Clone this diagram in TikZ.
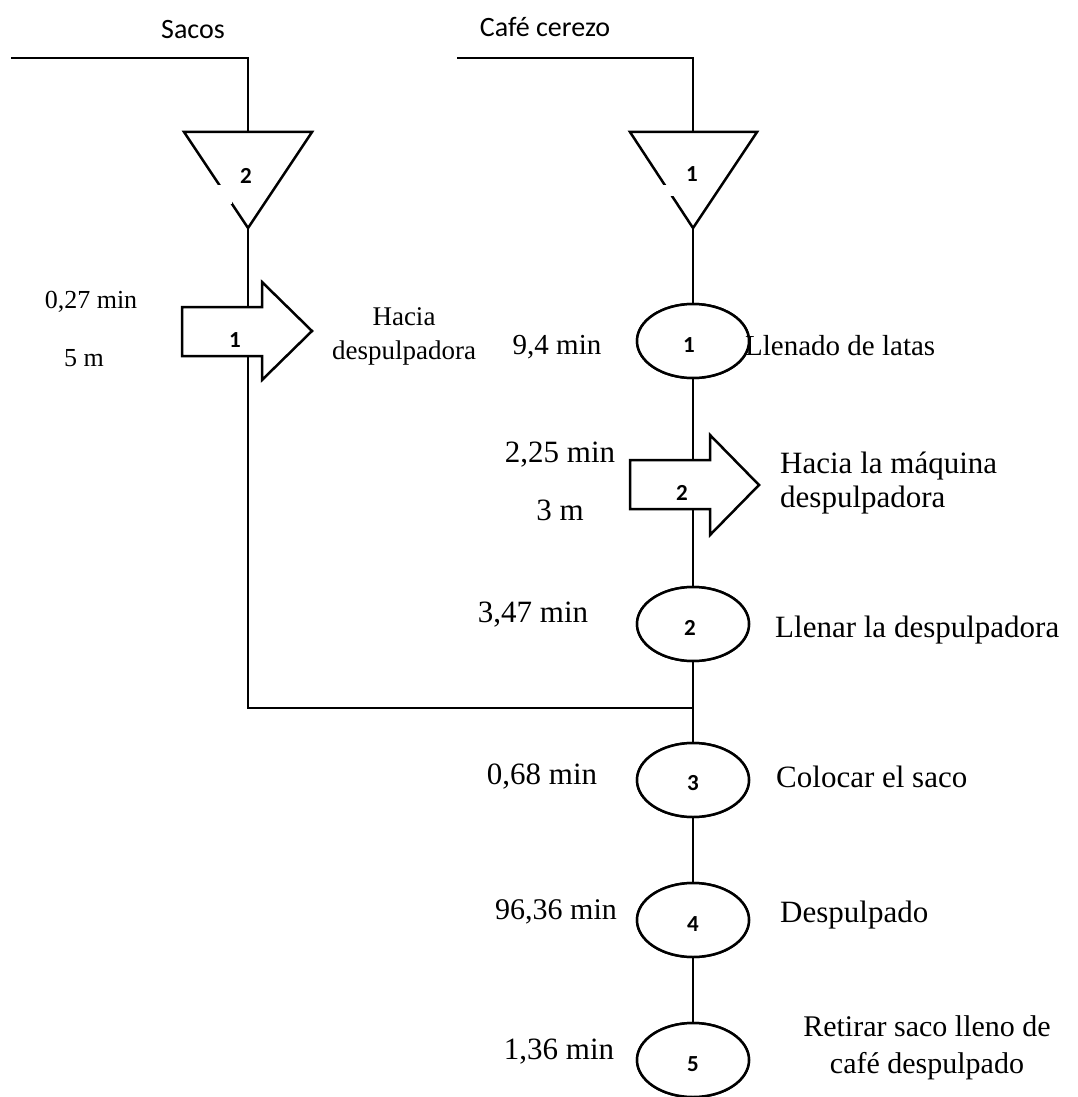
\documentclass[tikz,border=0pt]{standalone}
\usepackage{fontspec}
\setmainfont{Liberation Serif}
\newfontfamily\calfont{Carlito}
\usetikzlibrary{shapes.geometric}
\begin{document}
\begin{tikzpicture}[x=1pt,y=-1pt,
  conn/.style={line width=1.2pt},
  shapeline/.style={draw, line width=2.5pt, fill=white, line join=miter},
  op/.style={ellipse, draw, line width=2.5pt, fill=white, minimum width=112pt, minimum height=74pt, inner sep=0pt},
  num/.style={font=\calfont\bfseries\fontsize{23}{26}\selectfont, inner sep=0pt},
  head/.style={font=\calfont\fontsize{28}{32}\selectfont, inner sep=0pt},
  lab/.style={font=\fontsize{26}{32}\selectfont, inner sep=0pt, align=center},
  labt/.style={font=\fontsize{29}{34}\selectfont, inner sep=0pt, align=center},
  labr/.style={font=\fontsize{31}{34}\selectfont, inner sep=0pt, align=center}]
\useasboundingbox (0,0) rectangle (1077,1097);

% coordinates
\coordinate (sacosL) at (11,58);
\coordinate (sacosC) at (248,58);
\coordinate (t2top) at (248,132);
\coordinate (t2apex) at (248,228);
\coordinate (cafeL) at (457,58);
\coordinate (cafeC) at (693,58);
\coordinate (t1top) at (693,132);
\coordinate (t1apex) at (693,228);
\coordinate (corner) at (248,708);
\coordinate (junction) at (693,708);

% operations
\node[op] (op1) at (693,341) {};
\node[op] (op2) at (693,624) {};
\node[op] (op3) at (693,780) {};
\node[op] (op4) at (693,920) {};
\node[op] (op5) at (693,1060) {};

% connectors
\draw[conn] (sacosL) -- (sacosC) -- (t2top);
\draw[conn] (cafeL) -- (cafeC) -- (t1top);
\draw[conn] (t2apex) -- (corner) -- (junction);
\draw[conn] (t1apex) -- (op1.north);
\draw[conn] (op1.south) -- (op2.north);
\draw[conn] (op2.south) -- (junction) -- (op3.north);
\draw[conn] (op3.south) -- (op4.north);
\draw[conn] (op4.south) -- (op5.north);

% ellipses on top of connectors
\node[op] at (op1) {};
\node[op] at (op2) {};
\node[op] at (op3) {};
\node[op] at (op4) {};
\node[op] at (op5) {};
\node[num] (n1) at (689,345) {1};
\node[num] (n2) at (690,628) {2};
\node[num] (n3) at (693,783) {3};
\node[num] (n4) at (693,924) {4};
\node[num] (n5) at (693,1064) {5};

% storage triangles
\draw[shapeline] (184,132) -- (312,132) -- (t2apex) -- cycle;
\draw[shapeline] (630,132) -- (757,132) -- (t1apex) -- cycle;
\fill[white] (214,185) rectangle (232,204);
\fill[white] (660,185) rectangle (674,196);
\node[num] (s2) at (246,176) {2};
\node[num] (s1) at (692,174) {1};

% transport arrows
\draw[shapeline] (182,307) -- (262,307) -- (262,282) -- (312,331) -- (262,380) -- (262,356) -- (182,356) -- cycle;
\node[num] (a1) at (235,340) {1};
\draw[shapeline] (630,460) -- (710,460) -- (710,435) -- (759,485) -- (710,535) -- (710,509) -- (630,509) -- cycle;
\node[num] (a2) at (682,493) {2};

% header texts
\node[head] (sacos) at (193,30) {Sacos};
\node[head] (cafe) at (545,27) {Café cerezo};

% left texts
\node[lab] (t027) at (91,302) {0,27 min};
\node[lab] (t5m) at (84,358) {5 m};
\node[lab, font=\fontsize{27}{34}\selectfont] (hacia1) at (404,336) {Hacia\\despulpadora};

% right column times
\node[labt] (t94) at (557,347) {9,4 min};
\node[labr] (t225) at (560,455) {2,25 min};
\node[labr] (t3m) at (560,510) {3 m};
\node[labr] (t347) at (533,615) {3,47 min};
\node[labr] (t068) at (542,777) {0,68 min};
\node[labr, font=\fontsize{30}{34}\selectfont] (t9636) at (556,912) {96,36 min};
\node[labr] (t136) at (559,1052) {1,36 min};

% right column descriptions
\node[labt, anchor=west] (d1) at (745,346) {Llenado de latas};
\node[labr, anchor=west, align=left] (d2) at (780,483) {Hacia la máquina\\despulpadora};
\node[labr, anchor=west] (d3) at (775,630) {Llenar la despulpadora};
\node[labr, anchor=west] (d4) at (776,777) {Colocar el saco};
\node[labr, anchor=west] (d5) at (780,915) {Despulpado};
\node[labr, font=\fontsize{30}{37}\selectfont] (d6) at (927,1048) {Retirar saco lleno de\\café despulpado};
\end{tikzpicture}
\end{document}
